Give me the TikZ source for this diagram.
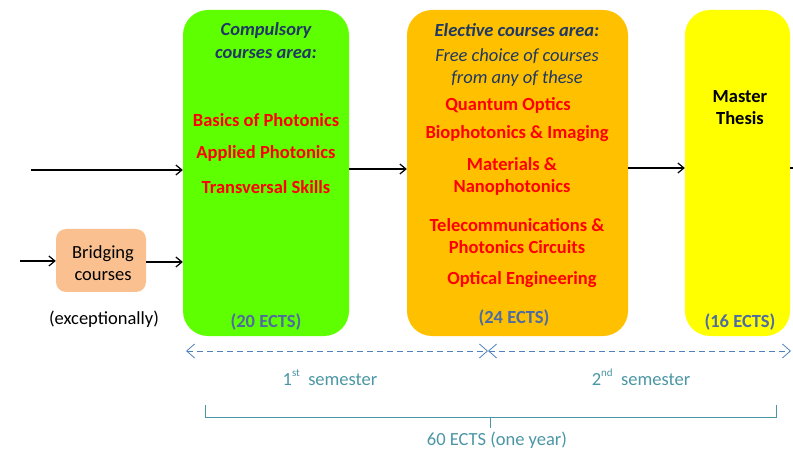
\documentclass[tikz,border=0pt]{standalone}
\usepackage{fontspec}
\setmainfont{Carlito}
\usetikzlibrary{arrows.meta}

\definecolor{compgreen}{RGB}{94,255,0}
\definecolor{electorange}{RGB}{255,192,0}
\definecolor{thesisyellow}{RGB}{255,255,0}
\definecolor{bridgepeach}{RGB}{250,192,144}
\definecolor{headnavy}{RGB}{31,56,100}
\definecolor{ectsblue}{RGB}{79,108,160}
\definecolor{semblue}{RGB}{79,129,189}
\definecolor{semteal}{RGB}{75,150,165}

\tikzset{
  area/.style={rounded corners=25pt, inner sep=0pt},
  course/.style={text=red, font=\fontsize{18.5}{22}\selectfont\bfseries, align=center},
  head/.style={text=headnavy, font=\fontsize{18.5}{23}\selectfont\bfseries\itshape, align=center},
  freetxt/.style={text=headnavy, font=\fontsize{18.5}{22}\selectfont\itshape, align=center},
  ects/.style={text=ectsblue, font=\fontsize{18.5}{22}\selectfont\bfseries},
  plain/.style={font=\fontsize{18.5}{22}\selectfont, align=center},
  semtxt/.style={text=semteal, font=\fontsize{18.5}{22}\selectfont},
  flow/.style={-{Straight Barb[length=6pt,width=10pt]}, line width=1.2pt},
  semarrow/.style={{Straight Barb[length=8pt,width=14pt]}-{Straight Barb[length=8pt,width=14pt]}, semblue, thick, dash pattern=on 6pt off 4pt}
}

\begin{document}
\begin{tikzpicture}[x=1pt, y=-1pt]
\useasboundingbox (0,0) rectangle (793,449);
% the three areas of the year
\node[area, fill=compgreen, minimum width=166pt, minimum height=326pt] (comp) at (266,173) {};
\node[area, fill=electorange, minimum width=221pt, minimum height=326pt] (elect) at (517.5,173) {};
\node[area, fill=thesisyellow, minimum width=105pt, minimum height=326pt] (thesis) at (737.5,173) {};
\node[area, rounded corners=10pt, fill=bridgepeach, minimum width=90pt, minimum height=63pt] (bridge) at (101,260.5) {};

% compulsory
\node[head] (comphead) at (266,41) {Compulsory\\courses area:};
\foreach \y/\name/\txt in {120/basics/Basics of Photonics, 153/applied/Applied Photonics, 187/transv/Transversal Skills}
  \node[course] (\name) at (266,\y) {\txt};
\node[ects] (compects) at (266,322) {(20 ECTS)};

% elective
\node[head] (electhead) at (517,30) {Elective courses area:};
\node[freetxt] (electfree) at (517,68) {Free choice of courses\\from any of these};
\node[course] (quantum) at (508,105) {Quantum Optics};
\node[course] (bio) at (517,134) {Biophotonics \& Imaging};
\node[course] (mater) at (512,176) {Materials \&\\Nanophotonics};
\node[course] (telecom) at (517,236) {Telecommunications \&\\Photonics Circuits};
\node[course] (optical) at (522,280) {Optical Engineering};
\node[ects] (electects) at (514,318) {(24 ECTS)};

% thesis
\node[course, text=black] (thesishead) at (740,108) {Master\\Thesis};
\node[ects] (thesisects) at (740,322) {(16 ECTS)};

% bridging
\node[plain] (bridgetxt) at (103,263) {Bridging\\courses};
\node[plain] (except) at (104,319) {(exceptionally)};

% connectors
\coordinate (entry) at (31,170);
\coordinate (bentry) at (20,261);
\coordinate (exit) at (800,168);
\draw[flow] (entry) -- (entry -| comp.west);
\draw[flow] (bentry) -- (bentry -| bridge.west);
\draw[flow] (bridge.east |- 0,262) -- (comp.west |- 0,262);
\draw[flow] (comp.east |- 0,169) -- (elect.west |- 0,169);
\draw[flow] (elect.east |- 0,168) -- (thesis.west |- 0,168);
\draw[line width=1.2pt] (thesis.east |- exit) -- (exit);

% semesters
\coordinate (semA) at (186,351); \coordinate (semB) at (488,351); \coordinate (semC) at (791,351);
\draw[semarrow] (semA) -- (semB);
\draw[semarrow] (semB) -- (semC);
\node[semtxt] (sem1) at (330,378) {1\raisebox{9pt}{\fontsize{11}{11}\selectfont st}\ \ semester};
\node[semtxt] (sem2) at (641,377) {2\raisebox{9pt}{\fontsize{11}{11}\selectfont nd}\ \ semester};

% one year brace
\draw[semteal] (205,405) -- (205,417) -- (776,417) -- (776,405);
\draw[semteal] (490,417) -- (490,428);
\node[semtxt] (year) at (497,440) {60 ECTS (one year)};
\end{tikzpicture}
\end{document}
